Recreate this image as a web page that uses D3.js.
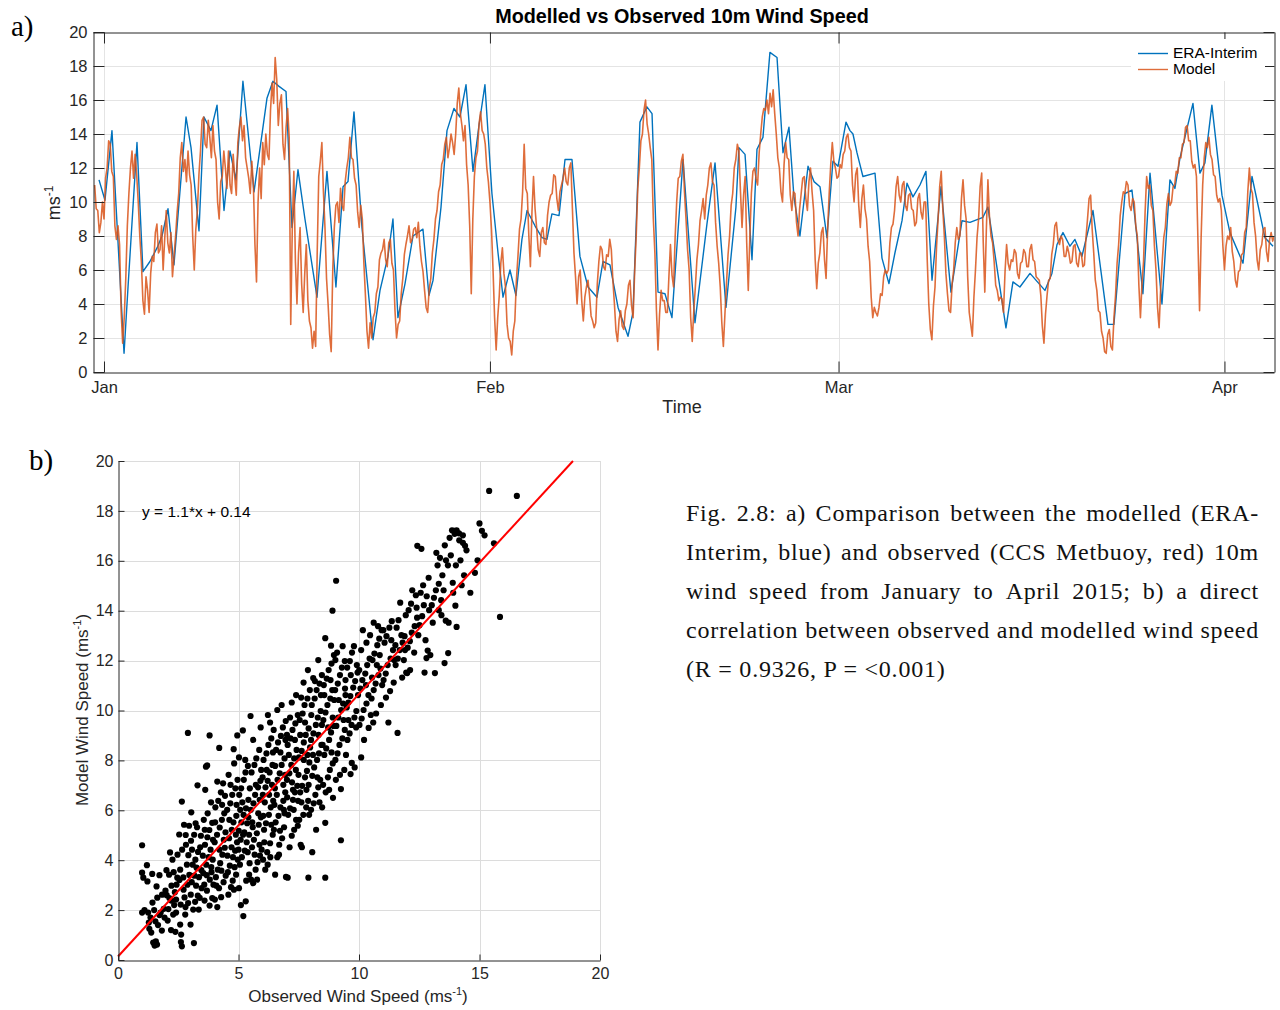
<!DOCTYPE html>
<html>
<head>
<meta charset="utf-8">
<script src="https://cdn.jsdelivr.net/npm/d3@7"></script>
<style>
  body { margin: 0; background: #fff; }
  svg { display: block; }
</style>
</head>
<body>
<svg id="fig" width="1280" height="1010"></svg>
<script>
// ---------------- data ----------------
// ERA-Interim 10 m wind speed: [days since 1 Jan 2015 00:00 UTC, m/s]
const eraInterim = [
  [-0.40,11.3],[0.08,10.1],[0.64,14.2],[1.61,1.1],[1.93,5.0],[2.65,13.5],[3.13,5.9],[3.69,6.5],[4.26,7.3],[4.66,8.0],
  [5.14,9.6],[5.62,6.3],[6.59,15.0],[6.99,13.2],[7.63,8.3],[8.03,15.0],[8.59,14.2],[9.08,15.7],[9.64,9.5],[10.12,13.0],
  [10.60,11.3],[11.16,17.1],[12.05,10.6],[13.09,16.1],[13.57,17.1],[14.06,16.8],[14.62,16.5],[15.10,8.5],[15.58,11.9],[16.14,9.0],
  [17.11,4.4],[17.91,11.8],[18.63,5.0],[19.20,10.9],[19.60,11.2],[20.08,15.3],[20.72,8.5],[21.61,1.9],[22.17,4.8],[22.81,6.8],
  [23.21,9.0],[23.61,3.2],[24.18,5.2],[24.82,8.0],[25.62,8.4],[26.10,4.5],[26.43,5.4],[27.07,9.7],[27.55,14.2],[28.11,15.5],
  [28.59,15.0],[29.08,16.9],[29.64,11.8],[30.12,14.5],[30.60,16.9],[31.16,10.5],[31.65,7.0],[32.05,4.4],[32.61,6.0],[33.09,4.5],
  [33.57,7.8],[33.98,9.5],[34.62,8.6],[35.18,7.9],[35.58,7.8],[35.98,9.3],[36.55,9.2],[37.03,12.5],[37.59,12.5],[38.23,6.8],
  [38.88,5.0],[39.60,4.4],[40.08,6.5],[40.64,6.3],[41.29,3.8],[42.09,2.1],[42.49,3.5],[43.05,14.7],[43.61,15.6],[44.02,15.2],
  [44.50,4.7],[45.06,4.6],[45.62,3.2],[46.51,12.5],[47.47,2.9],[48.43,8.7],[49.08,12.3],[49.96,3.8],[50.76,9.7],[51.00,13.2],
  [51.49,12.8],[52.05,6.6],[52.45,13.1],[52.93,13.8],[53.49,18.8],[54.06,18.5],[54.54,12.9],[55.02,14.4],[55.42,10.3],[55.90,8.0],
  [56.55,12.1],[57.03,11.2],[57.51,10.9],[58.07,7.9],[58.55,12.4],[58.96,12.1],[59.60,14.7],[59.92,14.2],[60.16,14.0],[60.48,12.9],
  [60.96,11.5],[61.93,11.7],[62.49,6.7],[63.05,5.2],[63.53,7.0],[64.10,8.9],[64.50,11.1],[64.98,10.3],[65.54,11.0],[66.02,11.8],
  [66.51,5.4],[67.23,10.9],[68.03,4.7],[68.92,8.9],[69.56,8.8],[70.60,9.1],[71.00,9.7],[72.45,2.6],[73.01,5.3],[73.57,5.0],
  [74.38,5.8],[75.58,4.8],[76.14,5.8],[76.55,7.5],[77.03,8.2],[77.59,7.4],[77.99,7.8],[78.55,6.8],[79.44,9.5],[80.64,2.8],
  [81.12,2.8],[82.01,10.5],[82.57,10.7],[83.45,4.6],[84.02,11.7],[84.98,4.0],[85.62,11.3],[86.02,10.8],[86.43,12.6],[87.47,15.8],
  [88.03,11.7],[88.43,12.3],[88.99,15.7],[89.80,10.4],[90.44,8.2],[91.49,6.4],[92.21,11.5],[93.25,7.9],[93.90,7.4]
];

// Metbuoy record, 3-hourly from 31 Dec 2014 06:00 UTC (m/s), one row per day
const buoyStart = Date.UTC(2014, 11, 31, 6);
const buoyStepHours = 3;
const buoySpeed = [
  11.0, 9.6, 9.5, 8.2, 8.8, 10.0,
  9.0, 11.4, 12.0, 13.6, 13.4, 11.8, 11.5, 8.6,
  7.8, 8.6, 7.5, 3.6, 1.7, 3.2, 5.5, 8.6,
  10.5, 12.0, 13.0, 11.4, 12.8, 11.6, 10.0, 8.0,
  6.5, 4.2, 3.4, 5.6, 4.8, 3.5, 5.8, 6.8,
  6.5, 8.2, 8.7, 7.0, 7.2, 8.6, 6.0, 7.8,
  9.5, 7.6, 7.0, 8.2, 5.6, 6.8, 8.0, 9.4,
  10.5, 12.6, 13.5, 11.8, 12.5, 11.2, 13.0, 11.6,
  11.0, 8.0, 6.0, 8.4, 9.5, 11.6, 13.0, 14.8,
  15.0, 13.4, 13.2, 14.8, 13.8, 12.6, 14.5, 13.0,
  12.5, 10.0, 9.0, 11.2, 11.5, 13.0, 12.0, 10.8,
  13.0, 11.0, 10.5, 12.8, 11.5, 10.4, 13.5, 14.4,
  15.0, 13.6, 14.5, 12.6, 12.0, 11.4, 10.5, 12.4,
  11.0, 7.5, 5.3, 10.0, 12.0, 10.2, 13.5, 12.2,
  14.0, 12.8, 12.5, 15.4, 17.0, 15.8, 18.5, 17.2,
  14.5, 15.8, 16.3, 13.4, 12.5, 14.4, 15.5, 13.8,
  2.8, 8.5, 11.8, 6.5, 4.0, 7.0, 8.5, 5.2,
  3.5, 5.8, 7.5, 4.2, 3.0, 2.6, 1.4, 2.4,
  1.5, 7.0, 11.5, 12.4, 13.5, 10.6, 8.5, 5.5,
  4.0, 2.2, 1.2, 6.0, 8.5, 9.8, 10.0, 8.8,
  10.8, 9.8, 9.5, 11.2, 12.0, 12.6, 13.8, 12.6,
  12.5, 11.4, 11.0, 9.4, 8.5, 9.8, 9.0, 6.4,
  4.5, 2.4, 1.4, 2.9, 2.0, 3.2, 3.5, 4.6,
  5.0, 6.6, 7.0, 7.2, 7.8, 6.6, 6.2, 7.6,
  7.8, 6.4, 6.0, 3.6, 2.0, 2.8, 3.0, 4.6,
  5.5, 6.9, 7.5, 8.0, 8.6, 7.6, 7.8, 8.4,
  8.5, 7.9, 8.8, 7.4, 6.5, 5.9, 4.8, 3.8,
  3.5, 4.9, 5.5, 7.0, 7.8, 9.0, 9.5, 10.6,
  11.0, 12.2, 12.5, 13.4, 13.8, 12.6, 13.2, 14.0,
  13.5, 12.8, 14.0, 15.8, 16.7, 15.2, 14.5, 13.6,
  14.5, 12.2, 11.0, 8.6, 4.6, 9.0, 11.5, 12.6,
  13.0, 14.6, 15.3, 14.2, 14.0, 13.4, 12.0, 11.2,
  10.0, 8.4, 6.0, 3.2, 1.3, 3.2, 4.5, 6.4,
  7.3, 5.8, 5.0, 2.8, 2.0, 1.8, 1.0, 2.4,
  3.0, 5.4, 6.8, 8.4, 9.0, 10.6, 13.4, 10.8,
  10.5, 8.0, 6.2, 9.4, 11.5, 9.6, 8.5, 7.2,
  6.8, 8.2, 8.5, 7.6, 7.5, 9.2, 10.0, 10.4,
  10.5, 11.6, 11.5, 10.2, 9.5, 10.6, 11.0, 11.4,
  12.0, 11.2, 11.0, 12.0, 12.3, 9.6, 7.0, 5.6,
  4.0, 5.6, 6.0, 4.2, 3.0, 4.4, 5.0, 5.4,
  4.5, 3.3, 3.0, 2.6, 2.9, 5.2, 6.5, 7.4,
  7.2, 6.2, 6.0, 6.9, 6.8, 7.8, 7.2, 5.4,
  4.0, 2.4, 1.8, 3.1, 3.6, 2.7, 2.5, 3.6,
  4.0, 5.1, 5.4, 3.9, 3.2, 5.9, 8.0, 10.8,
  12.0, 13.6, 14.0, 15.4, 16.0, 14.6, 14.0, 13.2,
  12.5, 9.0, 7.0, 3.6, 1.3, 3.4, 4.8, 4.2,
  4.2, 3.5, 3.5, 5.6, 7.5, 5.7, 5.0, 7.9,
  10.0, 11.4, 11.5, 12.4, 12.8, 10.6, 9.0, 7.2,
  6.0, 3.2, 1.8, 3.6, 5.0, 6.6, 7.5, 8.9,
  9.5, 10.2, 9.0, 10.4, 11.0, 12.0, 12.3, 11.2,
  11.0, 8.8, 7.4, 6.4, 5.0, 2.9, 1.5, 3.4,
  5.2, 6.9, 8.0, 9.8, 10.5, 12.0, 12.5, 13.4,
  13.0, 10.6, 8.5, 10.4, 11.5, 7.6, 4.8, 7.9,
  10.5, 11.8, 12.0, 11.4, 11.0, 12.9, 14.0, 15.0,
  15.5, 15.4, 16.0, 15.2, 16.4, 15.6, 16.6, 15.2,
  14.0, 12.6, 12.0, 10.6, 10.0, 12.2, 13.5, 12.6,
  12.5, 10.4, 9.5, 10.6, 10.5, 8.8, 8.0, 9.6,
  10.5, 11.4, 11.5, 10.2, 9.5, 11.2, 12.0, 10.6,
  9.5, 6.6, 4.9, 6.4, 7.0, 8.2, 8.5, 6.6,
  5.5, 8.4, 10.5, 12.2, 13.5, 12.4, 12.0, 11.4,
  11.5, 12.2, 12.0, 12.8, 13.0, 13.8, 14.0, 13.2,
  13.0, 11.0, 10.0, 11.6, 12.0, 9.8, 8.5, 10.2,
  11.0, 9.6, 9.0, 7.4, 6.5, 4.4, 3.2, 3.8,
  3.5, 3.3, 3.8, 4.6, 4.5, 5.6, 6.0, 5.8,
  6.0, 7.6, 8.5, 8.7, 9.5, 10.9, 11.5, 10.4,
  10.0, 11.0, 11.2, 9.8, 9.5, 10.4, 10.5, 9.6,
  9.5, 8.6, 8.8, 10.2, 10.5, 9.4, 9.0, 10.0,
  10.0, 6.6, 4.0, 2.5, 1.9, 3.9, 5.0, 7.4,
  9.0, 10.9, 11.8, 9.6, 8.0, 5.8, 4.6, 3.6,
  3.5, 5.2, 6.0, 7.6, 8.5, 7.8, 8.0, 10.2,
  11.3, 9.8, 9.0, 5.6, 3.5, 2.8, 2.1, 4.4,
  6.0, 7.9, 9.0, 10.9, 11.7, 7.6, 4.7, 8.4,
  11.3, 9.1, 8.0, 7.6, 6.5, 5.1, 4.8, 4.2,
  4.4, 4.3, 3.5, 5.9, 7.5, 6.4, 6.0, 6.6,
  6.5, 7.2, 7.0, 5.8, 5.5, 6.4, 6.5, 7.2,
  7.0, 6.2, 6.2, 7.2, 7.5, 6.6, 6.5, 5.6,
  5.5, 5.4, 4.5, 2.7, 1.7, 3.4, 4.5, 5.4,
  5.5, 6.9, 7.5, 8.6, 8.8, 7.8, 7.5, 8.0,
  7.8, 6.8, 6.8, 7.4, 7.0, 6.4, 6.5, 7.4,
  7.5, 6.4, 6.2, 7.0, 7.0, 6.2, 6.3, 7.9,
  9.0, 10.2, 10.4, 8.4, 7.0, 5.4, 4.8, 3.6,
  3.5, 2.4, 2.0, 1.2, 1.1, 2.2, 2.5, 1.5,
  1.3, 3.2, 4.5, 6.4, 7.5, 9.2, 10.0, 10.6,
  10.5, 11.2, 11.0, 9.8, 9.5, 10.2, 10.0, 8.6,
  8.0, 5.1, 3.2, 5.2, 6.5, 9.4, 11.5, 10.8,
  11.0, 9.8, 9.5, 7.4, 6.0, 3.8, 2.6, 4.9,
  6.5, 7.9, 8.5, 9.9, 10.5, 9.8, 10.0, 10.9,
  11.0, 11.8, 11.7, 12.6, 12.6, 13.4, 13.5, 14.4,
  14.5, 13.6, 13.6, 12.4, 12.0, 12.2, 11.5, 7.6,
  3.6, 7.9, 11.0, 12.6, 13.5, 13.2, 13.8, 12.8,
  12.5, 11.6, 11.5, 10.4, 10.0, 10.2, 9.5, 7.4,
  6.0, 7.4, 8.0, 7.8, 8.5, 7.1, 6.5, 5.4,
  5.0, 5.9, 6.0, 6.9, 7.0, 8.2, 8.5, 10.6,
  12.0, 10.8, 10.5, 8.8, 8.0, 6.6, 6.0, 7.2,
  7.5, 8.4, 8.5, 7.1, 6.5, 7.8, 8.2, 7.7,
  8.0
];

// observed vs modelled pairs [observed, modelled] (m/s)
const speedPairs = [
  [1.0,4.6],[1.0,3.5],[1.05,3.3],[1.2,3.8],[1.0,1.9],[1.1,2.0],[1.25,1.9],[1.35,1.7],[1.28,1.5],[1.38,1.1],[1.46,0.7],[1.52,0.58],
  [1.43,2.3],[1.5,2.0],[1.55,1.55],[1.42,3.45],[1.22,3.15],[1.3,1.25],[1.62,0.62],[1.57,0.75],[1.63,2.5],[1.72,3.4],[1.83,2.62],
  [1.93,1.7],[1.77,1.9],[1.9,2.05],[1.66,1.4],[1.82,1.18],[1.97,2.78],[1.6,2.95],[1.72,1.8],[2.02,2.6],[2.13,2.48],[2.21,2.38],
  [2.33,2.2],[2.41,1.9],[2.06,1.58],[2.2,1.2],[2.38,1.13],[2.12,3.42],[2.22,2.98],[2.31,3.52],[2.43,3.02],[2.47,4.22],[2.16,4.31],
  [2.26,4.02],[2.36,2.72],[2.01,3.6],[2.41,2.42],[2.29,1.82],[2.09,2.04],[2.46,3.3],[2.58,1.42],[2.62,1.02],[2.61,0.72],[2.65,0.55],
  [2.79,1.82],[2.91,2.28],[2.72,2.82],[2.55,3.21],[2.82,4.62],[2.81,5.01],[2.54,5.03],[2.65,6.35],[2.88,3.02],[2.96,3.41],[2.6,2.22],
  [2.76,2.51],[2.86,3.82],[2.58,3.62],[2.71,3.31],[2.92,4.2],[2.8,2.12],[2.66,4.42],[2.95,5.38],[2.74,5.42],[2.9,9.1],
  [3.02,2.62],[3.01,1.42],[3.15,0.68],[3.12,2.02],[3.2,2.33],[3.31,2.58],[3.39,2.49],[3.06,3.12],[3.17,3.38],[3.24,2.98],[3.36,3.32],
  [3.46,3.6],[3.1,3.82],[3.21,4.02],[3.32,4.33],[3.41,4.52],[3.03,4.78],[3.16,5.02],[3.28,5.32],[3.44,4.98],[3.35,2.02],[3.04,5.92],
  [3.22,5.48],[3.3,7.0],[3.26,3.7],[3.47,2.88],[3.07,4.42],[3.58,3.02],[3.69,2.78],[3.81,3.22],[3.88,3.52],[3.54,3.48],[3.66,3.82],
  [3.76,4.12],[3.84,4.42],[3.93,4.02],[3.61,4.62],[3.71,4.92],[3.79,5.21],[3.91,5.5],[3.56,5.62],[3.72,5.88],[3.86,6.32],[3.62,6.82],
  [3.7,7.8],[3.91,2.48],[3.59,2.38],[3.8,2.18],[3.96,3.02],[3.52,4.18],[3.94,4.82],[3.68,3.4],[3.87,3.72],[3.6,5.22],[3.8,9.0],[3.65,7.75],
  [4.02,2.42],[4.12,2.12],[4.28,2.52],[4.19,2.88],[4.38,3.12],[4.06,3.32],[4.14,3.62],[4.24,3.88],[4.33,4.22],[4.43,4.5],[4.01,4.72],
  [4.11,5.02],[4.22,5.31],[4.31,5.62],[4.41,5.88],[4.04,6.12],[4.16,6.38],[4.27,6.72],[4.36,7.08],[4.12,7.15],[4.2,8.5],[4.47,3.38],
  [4.29,3.58],[4.46,5.12],[4.21,4.42],[4.39,4.82],[4.03,5.52],[4.32,6.22],[4.44,6.58],[4.08,2.98],[4.58,2.62],[4.69,2.92],[4.81,2.82],
  [4.9,3.42],[4.56,3.52],[4.64,3.78],[4.77,4.12],[4.86,4.38],[4.94,4.72],[4.61,4.88],[4.72,5.22],[4.79,5.52],[4.91,5.78],[4.53,6.02],
  [4.66,6.28],[4.74,6.62],[4.87,6.88],[4.96,7.22],[4.59,7.42],[4.82,7.88],[4.8,8.45],[4.95,9.0],[4.71,4.52],[4.89,5.02],[4.62,5.62],
  [4.97,4.02],[4.76,3.18],[4.92,6.22],[4.54,4.18],[4.84,3.72],[4.67,7.02],
  [5.02,2.88],[5.1,2.2],[5.3,2.35],[5.2,1.76],[5.06,3.82],[5.14,4.12],[5.26,4.38],[5.34,4.72],[5.44,5.02],[5.01,5.18],[5.12,5.52],
  [5.21,5.82],[5.31,6.08],[5.41,6.42],[5.03,6.62],[5.11,6.88],[5.22,7.22],[5.29,7.52],[5.39,7.78],[5.02,8.12],[5.18,9.2],[5.32,3.18],
  [5.46,3.88],[5.38,4.32],[5.09,4.82],[5.24,5.12],[5.36,5.48],[5.07,6.02],[5.16,6.32],[5.47,6.88],[5.28,8.02],[5.44,3.42],[5.0,4.42],
  [5.19,5.02],[5.41,5.72],[5.52,3.22],[5.61,3.08],[5.71,3.62],[5.79,3.92],[5.89,4.18],[5.56,4.52],[5.64,4.82],[5.76,5.08],[5.84,5.42],
  [5.93,5.72],[5.51,6.02],[5.62,6.28],[5.69,6.62],[5.81,6.92],[5.91,7.18],[5.54,7.52],[5.66,7.82],[5.74,8.08],[5.86,8.42],[5.61,8.82],
  [5.92,9.32],[5.5,9.78],[5.96,4.42],[5.59,5.32],[5.82,5.88],[5.72,7.02],[5.88,6.42],[5.57,5.52],[5.87,4.62],[5.67,4.22],[5.94,7.62],[5.77,3.22],
  [6.02,4.02],[6.11,3.62],[6.19,4.32],[6.31,4.68],[6.42,5.02],[6.06,5.22],[6.14,5.48],[6.26,5.82],[6.34,6.12],[6.44,6.38],[6.01,6.62],
  [6.12,6.92],[6.21,7.18],[6.29,7.52],[6.41,7.82],[6.04,8.02],[6.16,8.28],[6.24,8.62],[6.36,8.88],[6.46,9.22],[6.22,9.82],[6.32,4.12],
  [6.47,5.22],[6.03,5.78],[6.09,6.32],[6.39,7.02],[6.36,5.42],[6.17,7.62],[6.43,8.32],[6.0,7.32],[6.27,6.62],[6.07,4.72],[6.31,9.52],
  [6.21,3.82],[6.52,3.42],[6.61,4.12],[6.69,4.62],[6.81,4.88],[6.89,5.32],[6.54,5.52],[6.66,5.78],[6.74,6.12],[6.86,6.38],[6.94,6.72],
  [6.51,6.88],[6.62,7.22],[6.71,7.48],[6.79,7.82],[6.91,8.08],[6.56,8.42],[6.64,8.72],[6.76,8.98],[6.84,9.32],[6.96,9.58],[6.61,10.02],
  [6.79,10.22],[6.91,5.88],[6.72,5.18],[6.49,6.22],[6.94,7.42],[6.59,6.62],[6.86,7.02],[6.74,8.32],[6.52,7.78],[6.95,8.82],[6.68,4.22],
  [6.97,3.33],[6.88,6.02],
  [7.04,3.3],[7.12,4.52],[7.21,4.98],[7.31,5.22],[7.39,5.62],[7.06,5.82],[7.14,6.08],[7.26,6.42],[7.34,6.72],[7.44,6.98],[7.01,7.22],
  [7.11,7.48],[7.19,7.82],[7.31,8.08],[7.41,8.42],[7.04,8.62],[7.16,8.88],[7.24,9.22],[7.36,9.48],[7.46,9.82],[7.21,10.32],[7.39,10.62],
  [7.29,6.02],[7.47,6.38],[7.02,6.52],[7.22,7.12],[7.38,7.62],[7.09,8.22],[7.34,8.82],[7.01,9.02],[7.26,6.82],[7.46,5.38],[7.14,9.72],
  [7.52,5.62],[7.58,4.62],[7.69,5.82],[7.81,6.12],[7.89,6.38],[7.56,6.72],[7.64,6.98],[7.76,7.32],[7.84,7.58],[7.94,7.92],[7.51,8.12],
  [7.62,8.38],[7.71,8.72],[7.79,9.02],[7.91,9.28],[7.54,9.62],[7.66,9.88],[7.74,10.22],[7.86,10.48],[7.96,10.82],[7.7,11.12],[7.88,11.62],
  [7.61,6.32],[7.82,6.82],[7.49,7.42],[7.97,8.52],[7.71,8.02],[7.86,8.22],[7.56,9.02],[7.76,9.52],[7.91,7.02],[7.6,10.52],[7.93,5.82],
  [7.9,3.3],[7.63,4.52],
  [8.01,6.02],[8.12,6.28],[8.19,6.62],[8.31,6.92],[8.39,7.22],[8.06,7.38],[8.14,7.72],[8.26,8.02],[8.34,8.28],[8.44,8.62],[8.01,8.82],
  [8.11,9.08],[8.21,9.42],[8.29,9.72],[8.41,9.98],[8.04,10.22],[8.16,10.48],[8.24,10.82],[8.36,11.08],[8.46,11.42],[8.1,11.3],[8.31,12.02],
  [8.22,5.22],[8.47,6.12],[8.09,8.22],[8.32,9.02],[8.02,9.82],[8.42,10.62],[8.27,7.32],[8.46,9.42],[8.17,11.18],[8.06,4.32],[8.36,6.32],
  [8.51,7.02],[8.62,6.72],[8.71,7.32],[8.79,7.62],[8.91,7.88],[8.56,8.22],[8.64,8.48],[8.76,8.82],[8.84,9.12],[8.94,9.38],[8.52,9.62],
  [8.61,9.92],[8.69,10.22],[8.81,10.48],[8.89,10.82],[8.54,11.02],[8.66,11.28],[8.74,11.62],[8.86,11.88],[8.96,12.22],[8.6,12.9],
  [8.6,5.5],[8.6,3.3],[8.92,6.5],[8.76,6.82],[8.49,8.62],[8.91,9.72],[8.72,9.32],[8.82,11.22],[8.84,12.6],[8.97,10.42],[8.56,10.62],
  [8.86,8.32],[8.9,14.0],
  [9.05,15.2],[9.02,8.02],[9.11,8.28],[9.19,8.62],[9.31,8.88],[9.41,9.22],[9.06,9.38],[9.14,9.72],[9.26,10.02],[9.34,10.28],[9.44,10.62],
  [9.01,10.82],[9.12,11.08],[9.21,11.42],[9.29,11.72],[9.41,11.98],[9.09,12.32],[9.32,12.58],[9.21,7.42],[9.39,7.62],[9.25,4.8],
  [9.46,8.22],[9.04,7.22],[9.36,9.62],[9.16,10.42],[9.44,11.22],[9.02,12.02],[9.25,6.85],[9.42,10.88],[9.52,8.82],[9.61,9.08],
  [9.69,9.42],[9.81,9.72],[9.89,9.98],[9.56,10.32],[9.64,10.58],[9.76,10.92],[9.84,11.18],[9.94,11.52],[9.51,11.72],[9.62,11.98],
  [9.71,12.32],[9.79,12.58],[9.91,11.82],[9.65,7.45],[9.7,7.9],[9.56,9.62],[9.88,9.32],[9.66,11.42],[9.96,10.62],[9.82,7.72],[9.49,10.12],
  [10.02,9.42],[10.11,9.68],[10.19,10.02],[10.31,10.28],[10.39,10.62],[10.06,10.88],[10.14,11.22],[10.26,11.48],[10.34,11.82],
  [10.44,12.08],[10.09,12.42],[10.31,12.72],[10.21,8.82],[10.4,9.3],[10.01,11.62],[10.29,11.02],[10.46,13.02],[10.16,13.22],
  [10.49,9.82],[10.09,8.12],[10.52,10.48],[10.61,10.82],[10.69,11.08],[10.81,11.42],[10.89,11.68],[10.56,12.02],[10.64,12.28],
  [10.76,12.62],[10.84,12.88],[10.94,13.22],[10.61,13.52],[10.79,13.38],[10.71,9.88],[10.91,10.22],[10.59,9.52],[10.96,11.02],
  [10.74,11.82],[10.54,11.32],[10.86,12.22],
  [11.02,11.22],[11.11,11.48],[11.19,11.82],[11.31,12.08],[11.41,12.42],[11.06,12.72],[11.14,12.98],[11.26,13.32],[11.36,13.58],
  [11.46,12.02],[11.12,10.52],[11.29,10.78],[11.44,11.12],[11.22,9.52],[11.34,12.82],[11.01,13.22],[11.52,11.82],[11.61,12.08],
  [11.69,12.42],[11.81,12.72],[11.89,12.98],[11.56,13.32],[11.64,13.62],[11.76,13.02],[11.86,12.02],[11.96,11.52],[11.6,9.1],
  [11.79,11.32],[11.71,14.32],[11.94,13.82],[11.51,12.62],[11.91,12.42],
  [12.02,12.52],[12.11,12.78],[12.19,13.12],[12.31,13.38],[12.41,13.72],[12.06,14.02],[12.16,14.28],[12.0,11.5],[12.36,14.62],
  [12.42,16.6],[12.12,11.62],[12.29,12.32],[12.21,14.82],[12.46,13.02],[12.39,14.12],[12.51,13.42],[12.62,13.78],[12.69,14.22],
  [12.81,14.58],[12.91,14.02],[12.56,14.72],[12.66,15.02],[12.76,12.82],[12.85,12.4],[12.96,12.22],[12.59,16.48],[12.89,15.32],
  [12.72,11.52],[12.8,12.1],
  [13.02,14.22],[13.11,14.52],[13.19,14.82],[13.31,15.08],[13.41,14.42],[13.06,13.52],[13.15,11.5],[13.26,15.82],[13.36,16.12],
  [13.46,15.42],[13.21,16.32],[13.42,13.82],[13.55,11.9],[13.31,14.02],[13.51,14.82],[13.6,13.6],[13.69,15.82],[13.81,16.22],
  [13.89,15.12],[13.56,16.62],[13.7,12.3],[13.76,16.92],[13.86,17.22],[13.95,17.2],[13.61,16.02],[13.91,14.72],[13.72,13.52],[13.97,17.08],
  [14.02,15.82],[14.15,17.1],[14.21,16.02],[14.31,17.02],[14.4,16.6],[14.05,17.22],[14.16,16.82],[14.26,15.02],[14.36,15.42],
  [14.46,16.42],[14.0,14.2],[14.05,13.35],[14.31,16.72],[14.62,14.72],[14.81,15.52],[15.0,17.5],[15.1,17.2],[15.4,18.8],[15.6,16.7],
  [15.85,13.75],[16.55,18.6],[14.92,16.02],[15.21,17.02]
];

// least-squares fit of modelled on observed speed
const fitSlope = 1.052;
const fitIntercept = 0.14;

const speedTicks = d3.range(0, 21, 2);
const obsTicks = [0, 5, 10, 15, 20];
const monthTicks = [Date.UTC(2015,0,1), Date.UTC(2015,1,1), Date.UTC(2015,2,1), Date.UTC(2015,3,1)].map(t => new Date(t));

const captionLines = [
  "Fig. 2.8: a) Comparison between the modelled (ERA-",
  "Interim, blue) and observed (CCS Metbuoy, red) 10m",
  "wind speed from January to April 2015; b) a direct",
  "correlation between observed and modelled wind speed",
  "(R = 0.9326, P = <0.001)"
];

// ---------------- drawing ----------------
const svg = d3.select("#fig");
const sans = "'Liberation Sans', Arial, Helvetica, sans-serif";
const serif = "'Liberation Serif', 'DejaVu Serif', serif";
const ink = "#262626";
const blue = "#0072BD";
const orange = "#D95319";
const DAY = 86400000;
const jan1 = Date.UTC(2015, 0, 1);

svg.append("rect").attr("width", 1280).attr("height", 1010).attr("fill", "#fff");

function styleAxis(g, size) {
  g.selectAll("path.domain").attr("stroke", ink).attr("stroke-width", 1);
  g.selectAll(".tick line").attr("stroke", ink).attr("stroke-width", 1);
  g.selectAll(".tick text").attr("fill", ink).attr("font-family", sans).attr("font-size", size);
}

// ===== panel a: time series =====
const A = { left: 93, right: 1274, top: 32, bottom: 372 };
const xT = d3.scaleUtc()
  .domain([new Date(Date.UTC(2014, 11, 31, 2, 48)), new Date(Date.UTC(2015, 3, 4, 23, 30))])
  .range([A.left, A.right]);
const yT = d3.scaleLinear().domain([0, 20]).range([A.bottom, A.top]);

const pa = svg.append("g");

// grid
pa.append("g").selectAll("line").data(speedTicks.filter(v => v > 0 && v < 20)).join("line")
  .attr("x1", A.left).attr("x2", A.right)
  .attr("y1", d => yT(d) + 0.5).attr("y2", d => yT(d) + 0.5)
  .attr("stroke", "#e4e4e4").attr("stroke-width", 1);
pa.append("g").selectAll("line").data(monthTicks).join("line")
  .attr("x1", d => Math.round(xT(d)) + 0.5).attr("x2", d => Math.round(xT(d)) + 0.5)
  .attr("y1", A.top).attr("y2", A.bottom)
  .attr("stroke", "#e4e4e4").attr("stroke-width", 1);

pa.append("clipPath").attr("id", "clipA").append("rect")
  .attr("x", A.left).attr("y", A.top).attr("width", A.right - A.left).attr("height", A.bottom - A.top);

const eraLine = d3.line()
  .x(d => xT(new Date(jan1 + d[0] * DAY)))
  .y(d => yT(d[1]));
pa.append("path").datum(eraInterim)
  .attr("clip-path", "url(#clipA)")
  .attr("d", eraLine).attr("fill", "none")
  .attr("stroke", blue).attr("stroke-width", 1.4).attr("stroke-linejoin", "round");

const buoyLine = d3.line()
  .x((d, i) => xT(new Date(buoyStart + i * buoyStepHours * 3600000)))
  .y(d => yT(d));
pa.append("path").datum(buoySpeed)
  .attr("clip-path", "url(#clipA)")
  .attr("d", buoyLine).attr("fill", "none")
  .attr("stroke", orange).attr("stroke-opacity", 0.85).attr("stroke-width", 1.6).attr("stroke-linejoin", "round");

// axes (box with inward ticks)
const axL = pa.append("g").attr("transform", `translate(${A.left + 0.5},0)`)
  .call(d3.axisLeft(yT).tickValues(speedTicks).tickSizeInner(-11).tickSizeOuter(0).tickPadding(6));
styleAxis(axL, 16.5);
const axR = pa.append("g").attr("transform", `translate(${A.right + 0.5},0)`)
  .call(d3.axisRight(yT).tickValues(speedTicks).tickSizeInner(-11).tickSizeOuter(0).tickFormat(""));
styleAxis(axR, 16.5);
const axB = pa.append("g").attr("transform", `translate(0,${A.bottom + 0.5})`)
  .call(d3.axisBottom(xT).tickValues(monthTicks).tickSizeInner(-11).tickSizeOuter(0).tickPadding(9)
    .tickFormat(d3.utcFormat("%b")));
styleAxis(axB, 16.5);
const axTop = pa.append("g").attr("transform", `translate(0,${A.top + 0.5})`)
  .call(d3.axisTop(xT).tickValues(monthTicks).tickSizeInner(-11).tickSizeOuter(0).tickFormat(""));
styleAxis(axTop, 16.5);

// title and labels
pa.append("text").attr("x", 682).attr("y", 23).attr("text-anchor", "middle")
  .attr("font-family", sans).attr("font-size", 19.8).attr("font-weight", "bold").attr("fill", "#000")
  .text("Modelled vs Observed 10m Wind Speed");
pa.append("text").attr("x", 682).attr("y", 413).attr("text-anchor", "middle")
  .attr("font-family", sans).attr("font-size", 18).attr("fill", ink).text("Time");
const yLabA = pa.append("text").attr("transform", "translate(60,203) rotate(-90)")
  .attr("text-anchor", "middle").attr("font-family", sans).attr("font-size", 18).attr("fill", ink);
yLabA.append("tspan").text("ms");
yLabA.append("tspan").attr("dy", -7).attr("font-size", 12).text("-1");

// legend
const lg = pa.append("g");
lg.append("rect").attr("x", 1131).attr("y", 39).attr("width", 134).attr("height", 42).attr("fill", "#fff");
[["ERA-Interim", blue, 53], ["Model", orange, 69]].forEach(([name, col, y]) => {
  lg.append("line").attr("x1", 1138).attr("x2", 1168).attr("y1", y + 0.5).attr("y2", y + 0.5)
    .attr("stroke", col).attr("stroke-width", 1.4).attr("stroke-opacity", col === orange ? 0.85 : 1);
  lg.append("text").attr("x", 1173).attr("y", y + 5).attr("font-family", sans).attr("font-size", 15.5)
    .attr("fill", "#000").text(name);
});

// panel tag
svg.append("text").attr("x", 11).attr("y", 36).attr("font-family", serif).attr("font-size", 29)
  .attr("fill", "#000").text("a)");

// ===== panel b: scatter =====
const B = { left: 118, right: 600, top: 461, bottom: 960 };
const xS = d3.scaleLinear().domain([0, 20]).range([B.left, B.right]);
const yS = d3.scaleLinear().domain([0, 20]).range([B.bottom, B.top]);
const pb = svg.append("g");

pb.append("g").selectAll("line").data(speedTicks.filter(v => v > 0)).join("line")
  .attr("x1", B.left).attr("x2", B.right)
  .attr("y1", d => Math.round(yS(d)) + 0.5).attr("y2", d => Math.round(yS(d)) + 0.5)
  .attr("stroke", "#dcdcdc").attr("stroke-width", 1);
pb.append("g").selectAll("line").data(obsTicks.filter(v => v > 0)).join("line")
  .attr("x1", d => Math.round(xS(d)) + 0.5).attr("x2", d => Math.round(xS(d)) + 0.5)
  .attr("y1", B.top).attr("y2", B.bottom)
  .attr("stroke", "#dcdcdc").attr("stroke-width", 1);

pb.append("g").selectAll("circle").data(speedPairs).join("circle")
  .attr("cx", d => xS(d[0])).attr("cy", d => yS(d[1])).attr("r", 3.1).attr("fill", "#000");

// fitted line across the axes box
const xFitEnd = (20 - fitIntercept) / fitSlope;
pb.append("line")
  .attr("x1", xS(0)).attr("y1", yS(fitIntercept))
  .attr("x2", xS(xFitEnd)).attr("y2", yS(fitIntercept + fitSlope * xFitEnd))
  .attr("stroke", "#ff0000").attr("stroke-width", 2);

const bxL = pb.append("g").attr("transform", `translate(${B.left + 0.5},0)`)
  .call(d3.axisLeft(yS).tickValues(speedTicks).tickSizeInner(-6).tickSizeOuter(0).tickPadding(5));
styleAxis(bxL, 16);
const bxB = pb.append("g").attr("transform", `translate(0,${B.bottom + 0.5})`)
  .call(d3.axisBottom(xS).tickValues(obsTicks).tickSizeInner(-6).tickSizeOuter(0).tickPadding(7));
styleAxis(bxB, 16);

pb.append("text").attr("x", 142).attr("y", 517).attr("font-family", sans).attr("font-size", 15.5)
  .attr("fill", "#000")
  .text(`y = ${d3.format(".2")(fitSlope)}*x + ${d3.format(".2")(fitIntercept)}`);

const xLabB = pb.append("text").attr("x", 358).attr("y", 1002).attr("text-anchor", "middle")
  .attr("font-family", sans).attr("font-size", 17).attr("fill", ink);
xLabB.append("tspan").text("Observed Wind Speed (ms");
xLabB.append("tspan").attr("dy", -7).attr("font-size", 11).text("-1");
xLabB.append("tspan").attr("dy", 7).text(")");

const yLabB = pb.append("text").attr("transform", "translate(88,710) rotate(-90)")
  .attr("text-anchor", "middle").attr("font-family", sans).attr("font-size", 17).attr("fill", ink);
yLabB.append("tspan").text("Model Wind Speed (ms");
yLabB.append("tspan").attr("dy", -7).attr("font-size", 11).text("-1");
yLabB.append("tspan").attr("dy", 7).text(")");

svg.append("text").attr("x", 29).attr("y", 470).attr("font-family", serif).attr("font-size", 29)
  .attr("fill", "#000").text("b)");

// ===== caption (justified block) =====
const capX0 = 686, capX1 = 1259, capY0 = 521, capDy = 39;
const capFs = 24;
const cap = svg.append("g").attr("font-family", serif).attr("font-size", capFs).attr("fill", "#111");
const measure = (s, ls) => {
  const t = cap.append("text").attr("letter-spacing", ls).text(s);
  const w = t.node().getComputedTextLength();
  t.remove();
  return w;
};
// widen tracking so the longest line sets naturally across the block
const natural = measure(captionLines[3], 0);
const tracking = Math.max(0, (capX1 - capX0 - natural) / captionLines[3].length);
captionLines.forEach((line, i) => {
  const t = cap.append("text").attr("letter-spacing", tracking).attr("y", capY0 + i * capDy);
  if (i === captionLines.length - 1) { t.attr("x", capX0).text(line); return; }
  const words = line.split(" ");
  const widths = words.map(w => measure(w, tracking));
  const gap = (capX1 - capX0 - d3.sum(widths)) / (words.length - 1);
  let x = capX0;
  words.forEach((w, j) => { t.append("tspan").attr("x", x).text(w); x += widths[j] + gap; });
});
</script>
</body>
</html>
